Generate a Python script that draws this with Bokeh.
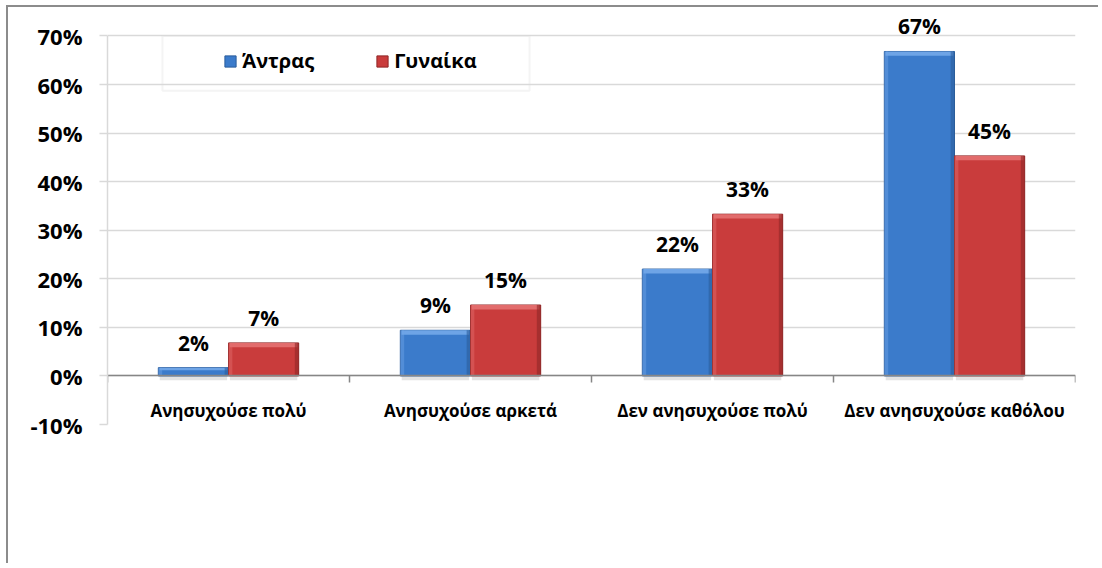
from bokeh.plotting import figure
from bokeh.models import (Range1d, FixedTicker, PrintfTickFormatter, ColumnDataSource,
                          Legend, LegendItem, BoxAnnotation, LabelSet)
from bokeh.core.properties import value
from bokeh.embed import file_html
from bokeh.resources import INLINE

categories = ["Ανησυχούσε πολύ", "Ανησυχούσε αρκετά", "Δεν ανησυχούσε πολύ", "Δεν ανησυχούσε καθόλου"]
series_names = ["Άντρας", "Γυναίκα"]
men = [1.7, 9.4, 22.0, 66.8]
women = [6.8, 14.6, 33.3, 45.3]
y_ticks = [-10, 0, 10, 20, 30, 40, 50, 60, 70]

FONT = "Open Sans"
BAR_W = 0.29

W, H = 1092, 558
p = figure(width=W, height=H, output_backend="svg", toolbar_location=None,
           x_range=Range1d(0, len(categories)), y_range=Range1d(-10, 74),
           min_border_left=99, min_border_right=25, min_border_top=9, min_border_bottom=141)
p.styles = {"border-left": "2px solid #8c8c8c", "border-top": "2px solid #8c8c8c",
            "margin-left": "6px", "margin-top": "5px"}
p.outline_line_color = None
p.background_fill_color = "white"
p.border_fill_color = "white"

# grid
p.xgrid.visible = False
p.ygrid.ticker = FixedTicker(ticks=y_ticks)
p.ygrid.grid_line_color = "#d9d9d9"
p.ygrid.grid_line_width = 1.5

# y axis
p.yaxis.ticker = FixedTicker(ticks=y_ticks)
p.yaxis.bounds = (y_ticks[0], y_ticks[-1])
p.yaxis.formatter = PrintfTickFormatter(format="%d%%")
p.yaxis.axis_line_color = "#d9d9d9"
p.yaxis.axis_line_width = 1.5
p.yaxis.major_tick_line_color = "#d9d9d9"
p.yaxis.major_tick_line_width = 1.5
p.yaxis.major_tick_out = 8
p.yaxis.major_tick_in = 0
p.yaxis.minor_tick_line_color = None
p.yaxis.major_label_text_font = FONT
p.yaxis.major_label_text_font_style = "bold"
p.yaxis.major_label_text_font_size = "22px"
p.yaxis.major_label_text_color = "black"
p.yaxis.major_label_standoff = 17

# x axis at zero
centers = [i + 0.5 for i in range(len(categories))]
p.xaxis.fixed_location = 0
p.xaxis.ticker = FixedTicker(ticks=centers, minor_ticks=list(range(len(categories) + 1)))
p.xaxis.major_label_overrides = {c: name for c, name in zip(centers, categories)}
p.xaxis.axis_line_color = "#868686"
p.xaxis.axis_line_width = 1.5
p.xaxis.major_tick_line_color = None
p.xaxis.major_tick_out = 0
p.xaxis.major_tick_in = 0
p.xaxis.minor_tick_line_color = "#868686"
p.xaxis.minor_tick_line_width = 1.5
p.xaxis.minor_tick_out = 7
p.xaxis.minor_tick_in = 0
p.xaxis.major_label_text_font = FONT
p.xaxis.major_label_text_font_style = "bold"
p.xaxis.major_label_text_font_size = "17px"
p.xaxis.major_label_text_color = "black"
p.xaxis.major_label_standoff = 16

def bars(vals, offset, main, light, dark):
    xs = [c + offset for c in centers]
    src = ColumnDataSource(dict(x=xs, top=vals,
                                bev=[v - min(0.9, v * 0.3) for v in vals],
                                label=[f"{round(v)}%" for v in vals]))
    # soft shadow
    p.vbar(x="x", top=0, bottom=-0.9, width=BAR_W * 0.96, source=src,
           fill_color="#b0b0b0", fill_alpha=0.35, line_color=None)
    r = p.vbar(x="x", top="top", bottom=0, width=BAR_W, source=src,
               fill_color=main, line_color=dark, line_width=1)
    # bevel: top highlight and darker side edges
    p.vbar(x="x", top="top", bottom="bev", width=BAR_W - 0.01, source=src,
           fill_color=light, line_color=None)
    edge = 0.016
    p.vbar(x=[x + BAR_W / 2 - edge / 2 for x in xs], top=vals, bottom=0, width=edge,
           fill_color=dark, fill_alpha=0.6, line_color=None)
    p.vbar(x=[x - BAR_W / 2 + edge / 2 for x in xs], top=vals, bottom=0, width=edge,
           fill_color=light, fill_alpha=0.45, line_color=None)
    p.add_layout(LabelSet(x="x", y="top", text="label", source=src, text_align="center",
                          text_baseline="middle", y_offset=25, text_font=value(FONT),
                          text_font_style="bold", text_font_size="21px", text_color="black"))
    return r

r_men = bars(men, -BAR_W / 2, "#3b7bcb", "#6ea4e6", "#2b5d9b")
r_women = bars(women, BAR_W / 2, "#c93c3c", "#e26c6c", "#8f2626")

# legend frame box
p.add_layout(BoxAnnotation(left=0.227, right=1.744, top=70, bottom=58.7,
                           fill_alpha=0, line_color="#d9d9d9", line_width=2))

legend = Legend(items=[LegendItem(label=series_names[0], renderers=[r_men]),
                       LegendItem(label=series_names[1], renderers=[r_women])],
                orientation="horizontal", location=(116, 350),
                padding=0, margin=0, spacing=61, label_standoff=5,
                glyph_width=14, glyph_height=14,
                border_line_color=None, background_fill_alpha=0,
                label_text_font=FONT, label_text_font_style="bold",
                label_text_font_size="20px", label_text_color="black")
p.add_layout(legend)

open("out.html", "w").write(file_html(p, INLINE))
